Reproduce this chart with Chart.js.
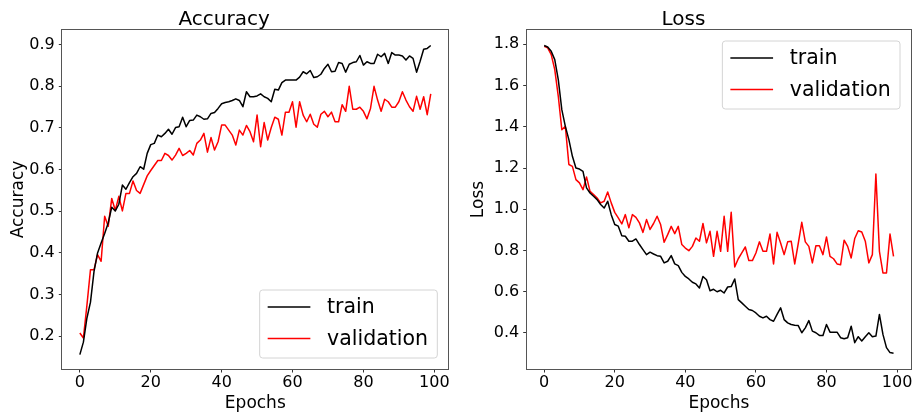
<!DOCTYPE html>
<html><head><meta charset="utf-8">
<script src="https://cdn.jsdelivr.net/npm/chart.js@4.4.1/dist/chart.umd.min.js"></script>
<style>
html,body{margin:0;padding:0;background:#fff;}
#wrap{position:relative;width:913px;height:417px;overflow:hidden;background:#fff;}
canvas{position:absolute;top:0;}
</style></head><body>
<div id="wrap">
<canvas id="acc" width="456" height="417" style="left:0px"></canvas>
<canvas id="loss" width="457" height="417" style="left:456px"></canvas>
</div>
<script>
// ---------- data ----------
const seriesLabels = ['train', 'validation'];
const accTrain = [
 0.156,0.186,0.244,0.282,0.356,0.400,0.424,0.447,0.472,0.510,
 0.501,0.517,0.563,0.553,0.569,0.583,0.591,0.607,0.601,0.639,
 0.660,0.663,0.683,0.679,0.687,0.697,0.685,0.701,0.703,0.726,
 0.703,0.718,0.719,0.731,0.727,0.721,0.722,0.735,0.737,0.747,
 0.758,0.761,0.763,0.766,0.770,0.766,0.751,0.787,0.775,0.775,
 0.777,0.782,0.775,0.771,0.763,0.793,0.791,0.809,0.815,0.815,
 0.815,0.815,0.822,0.835,0.830,0.838,0.821,0.823,0.829,0.843,
 0.853,0.835,0.836,0.857,0.855,0.834,0.853,0.857,0.859,0.874,
 0.851,0.859,0.855,0.855,0.877,0.871,0.879,0.855,0.881,0.875,
 0.875,0.873,0.863,0.873,0.867,0.834,0.860,0.889,0.891,0.898
];
const accVal = [
 0.208,0.196,0.275,0.360,0.360,0.396,0.380,0.488,0.464,0.531,
 0.502,0.536,0.501,0.543,0.543,0.573,0.550,0.543,0.564,0.585,
 0.598,0.610,0.622,0.622,0.639,0.634,0.623,0.635,0.651,0.634,
 0.639,0.646,0.635,0.663,0.671,0.687,0.642,0.677,0.647,0.667,
 0.707,0.707,0.695,0.683,0.659,0.695,0.683,0.706,0.691,0.667,
 0.731,0.655,0.713,0.671,0.701,0.726,0.721,0.683,0.738,0.738,
 0.763,0.702,0.763,0.731,0.715,0.733,0.709,0.702,0.733,0.740,
 0.727,0.738,0.715,0.715,0.756,0.740,0.800,0.745,0.745,0.750,
 0.740,0.722,0.747,0.800,0.767,0.740,0.769,0.763,0.750,0.750,
 0.763,0.787,0.767,0.751,0.740,0.776,0.745,0.775,0.732,0.782
];
const lossTrain = [
 1.794,1.787,1.766,1.726,1.629,1.483,1.402,1.338,1.257,1.200,
 1.195,1.184,1.104,1.079,1.063,1.047,1.023,1.006,1.039,0.974,
 0.926,0.918,0.872,0.869,0.845,0.845,0.856,0.829,0.804,0.780,
 0.792,0.783,0.775,0.772,0.740,0.748,0.775,0.735,0.727,0.694,
 0.674,0.662,0.646,0.638,0.618,0.674,0.658,0.605,0.612,0.600,
 0.607,0.594,0.623,0.625,0.662,0.562,0.546,0.530,0.514,0.509,
 0.497,0.481,0.473,0.481,0.465,0.457,0.490,0.522,0.465,0.449,
 0.441,0.438,0.436,0.401,0.425,0.460,0.409,0.401,0.388,0.388,
 0.441,0.404,0.404,0.404,0.377,0.372,0.377,0.433,0.353,0.382,
 0.361,0.382,0.401,0.382,0.385,0.490,0.393,0.329,0.305,0.302
];
const lossVal = [
 1.790,1.783,1.750,1.677,1.548,1.386,1.402,1.217,1.208,1.144,
 1.128,1.095,1.157,1.087,1.071,1.055,1.031,1.039,1.084,1.031,
 0.985,0.958,0.929,0.974,0.910,0.974,0.961,0.934,0.888,0.950,
 0.902,0.931,0.966,0.926,0.840,0.877,0.917,0.882,0.917,0.829,
 0.812,0.799,0.820,0.861,0.845,0.931,0.837,0.893,0.772,0.893,
 0.796,0.966,0.796,0.985,0.720,0.760,0.788,0.817,0.751,0.751,
 0.788,0.842,0.796,0.796,0.880,0.735,0.888,0.836,0.780,0.842,
 0.845,0.735,0.834,0.937,0.842,0.820,0.740,0.823,0.823,0.780,
 0.866,0.772,0.760,0.735,0.731,0.850,0.820,0.764,0.858,0.896,
 0.890,0.845,0.740,0.780,1.171,0.796,0.691,0.691,0.880,0.772
];
const epochs = accTrain.map((_, i) => i);
const xTicks = [0, 20, 40, 60, 80, 100];
const accTicks = [0.2, 0.3, 0.4, 0.5, 0.6, 0.7, 0.8, 0.9];
const lossTicks = [0.4, 0.6, 0.8, 1.0, 1.2, 1.4, 1.6, 1.8];

// ---------- helpers ----------
const FONT = '"DejaVu Sans", "Liberation Sans", sans-serif';
Chart.defaults.font.family = FONT;
Chart.defaults.color = '#000';

const framePlugin = {
  id: 'frame',
  afterDatasetsDraw(chart) {
    const a = chart.chartArea, ctx = chart.ctx;
    ctx.save();
    ctx.strokeStyle = '#555';
    ctx.lineWidth = 1;
    const l = Math.round(a.left) - 0.5, t = Math.round(a.top) - 0.5;
    const r = Math.round(a.right) + 0.5, b = Math.round(a.bottom) + 0.5;
    ctx.strokeRect(l, t, r - l, b - t);
    ctx.restore();
  }
};

const legendPlugin = {
  id: 'mplLegend',
  afterDraw(chart, args, o) {
    const ctx = chart.ctx, a = chart.chartArea;
    const items = chart.data.datasets;
    ctx.save();
    ctx.font = o.fontSize + 'px ' + FONT;
    const maxW = Math.max(...items.map(d => ctx.measureText(d.label).width));
    const padL = 8, handle = 42.7, gap = 16.7, padR = 9.3;
    const w = padL + handle + gap + maxW + padR;
    const h = o.height;
    const x = a.right - o.inset - w;
    const y = o.loc === 'upper right' ? a.top + o.inset : a.bottom - o.inset - h;
    const rr = 3;
    ctx.beginPath();
    ctx.moveTo(x + rr, y);
    ctx.arcTo(x + w, y, x + w, y + h, rr);
    ctx.arcTo(x + w, y + h, x, y + h, rr);
    ctx.arcTo(x, y + h, x, y, rr);
    ctx.arcTo(x, y, x + w, y, rr);
    ctx.closePath();
    ctx.fillStyle = 'rgba(255,255,255,0.8)';
    ctx.fill();
    ctx.strokeStyle = '#d4d4d4';
    ctx.lineWidth = 1;
    ctx.stroke();
    items.forEach((d, i) => {
      const cy = y + o.row0 + i * o.rowGap;
      ctx.strokeStyle = d.borderColor;
      ctx.lineWidth = d.borderWidth;
      ctx.beginPath();
      ctx.moveTo(x + padL, cy);
      ctx.lineTo(x + padL + handle, cy);
      ctx.stroke();
      ctx.fillStyle = '#000';
      ctx.textBaseline = 'middle';
      ctx.textAlign = 'left';
      ctx.fillText(d.label, x + padL + handle + gap, cy + 1);
    });
    ctx.restore();
  }
};

function makeChart(id, title, yLabel, train, val, yMin, yMax, yTicks, yAxisWidth, padRight, legendLoc, yTitlePad) {
  const ctx = document.getElementById(id);
  return new Chart(ctx, {
    type: 'line',
    data: {
      datasets: [
        { label: seriesLabels[0], data: epochs.map((e, i) => ({ x: e, y: train[i] })),
          borderColor: '#000000', borderWidth: 1.5, pointRadius: 0, tension: 0, fill: false,
          borderJoinStyle: 'round' },
        { label: seriesLabels[1], data: epochs.map((e, i) => ({ x: e, y: val[i] })),
          borderColor: '#ff0000', borderWidth: 1.5, pointRadius: 0, tension: 0, fill: false,
          borderJoinStyle: 'round' }
      ]
    },
    options: {
      responsive: false,
      animation: false,
      devicePixelRatio: 1,
      events: [],
      layout: { padding: { left: 0, right: padRight, top: 0, bottom: 0 } },
      plugins: {
        legend: { display: false },
        tooltip: { enabled: false },
        title: { display: true, text: title, color: '#000',
                 font: { size: 20, weight: 'normal', lineHeight: 1 },
                 padding: { top: 10, bottom: 0 } },
        mplLegend: { loc: legendLoc, fontSize: 20.5, inset: 11, height: 68, row0: 17, rowGap: 31.5 }
      },
      scales: {
        x: {
          type: 'linear', min: -4.95, max: 103.95,
          grid: { display: true, drawOnChartArea: false, drawTicks: true, tickLength: 3.5, tickColor: '#333', lineWidth: 1 },
          border: { display: false },
          afterBuildTicks: s => { s.ticks = xTicks.map(v => ({ value: v })); },
          afterFit: s => { s.height = 48; s.paddingLeft = 0; s.paddingRight = 0; },
          ticks: { autoSkip: false, maxRotation: 0, padding: 1, color: '#000', font: { size: 16 },
                   callback: v => String(v) },
          title: { display: true, text: 'Epochs', color: '#000', font: { size: 17 }, padding: { top: 0, bottom: 3 } }
        },
        y: {
          type: 'linear', min: yMin, max: yMax,
          grid: { display: true, drawOnChartArea: false, drawTicks: true, tickLength: 3.5, tickColor: '#333', lineWidth: 1 },
          border: { display: false },
          afterBuildTicks: s => { s.ticks = yTicks.map(v => ({ value: v })); },
          afterFit: s => { s.width = yAxisWidth; s.paddingTop = 0; s.paddingBottom = 0; },
          ticks: { autoSkip: false, padding: 4, color: '#000', font: { size: 16 },
                   callback: v => Number(v).toFixed(1) },
          title: { display: true, text: yLabel, color: '#000', font: { size: 17 }, padding: { top: yTitlePad, bottom: 0 } }
        }
      }
    },
    plugins: [framePlugin, legendPlugin]
  });
}

makeChart('acc', 'Accuracy', 'Accuracy', accTrain, accVal, 0.1215, 0.9352, accTicks, 62.3, 7.7, 'lower right', 8);
makeChart('loss', 'Loss', 'Loss', lossTrain, lossVal, 0.2253, 1.8695, lossTicks, 70.7, 2, 'upper right', 12);
</script>
</body></html>
